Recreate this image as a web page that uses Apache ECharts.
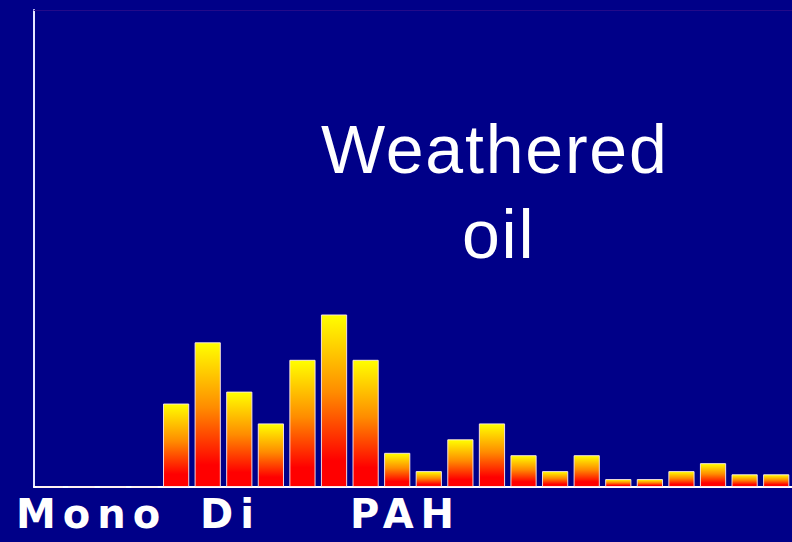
<!DOCTYPE html>
<html>
<head>
<meta charset="utf-8">
<script src="https://cdn.jsdelivr.net/npm/echarts@6/dist/echarts.min.js"></script>
<style>
html,body{margin:0;padding:0;background:#000088;}
#chart{width:792px;height:542px;}
#chart text[style*="40px"]{letter-spacing:7px;}
#chart text[style*="68px"]{letter-spacing:1.8px;}
</style>
</head>
<body>
<div id="chart"></div>
<script>
var categories = ['1','2','3','4','5','6','7','8','9','10','11','12','13','14','15','16','17','18','19','20','21','22','23','24'];
var values = [0,0,0,0,10.5,18.2,12,8,16,21.7,16,4.3,2,6,8,4,2,4,1,1,2,3,1.6,1.6];
var groupLabels = ['Mono','Di','PAH'];
var titleLines = ['Weathered','oil'];

var chart = echarts.init(document.getElementById('chart'), null, {renderer:'svg', width:792, height:542});
var font = '"Liberation Sans", Arial, sans-serif';
var boldFont = '"DejaVu Sans", Verdana, sans-serif';
var option = {
  backgroundColor: '#000088',
  animation: false,
  grid: {left:34, right:-5, top:10, bottom:55},
  xAxis: [{
    type:'category', data:categories,
    axisLine:{show:true, lineStyle:{color:'#ffffff', width:2}},
    axisTick:{show:false}, axisLabel:{show:false}, splitLine:{show:false}
  },{
    type:'category', data:categories, position:'top',
    axisLine:{show:true, lineStyle:{color:'#230a8a', width:1}},
    axisTick:{show:false}, axisLabel:{show:false}, splitLine:{show:false}
  }],
  yAxis: {
    type:'value', min:0, max:60,
    axisLine:{show:true, lineStyle:{color:'#e6e6ff', width:2}},
    axisTick:{show:false}, axisLabel:{show:false}, splitLine:{show:false}
  },
  series: [{
    type:'bar', data:values, barCategoryGap:'17%', xAxisIndex:0,
    itemStyle:{
      color:{type:'linear', x:0, y:0, x2:0, y2:1, colorStops:[
        {offset:0, color:'#ffff00'},
        {offset:0.45, color:'#ff8c00'},
        {offset:0.85, color:'#ff0000'},
        {offset:1, color:'#ff0000'}
      ]},
      borderColor:'rgba(255,235,235,0.9)', borderWidth:1
    }
  }],
  graphic: [
    {type:'text', left:321, top:115, style:{text:titleLines[0], fill:'#ffffff', font:'68px ' + font}},
    {type:'text', left:462, top:200, style:{text:titleLines[1], fill:'#ffffff', font:'68px ' + font}},
    {type:'text', left:16, top:494, style:{text:groupLabels[0], fill:'#ffffff', font:'bold 40px ' + boldFont}},
    {type:'text', left:200, top:494, style:{text:groupLabels[1], fill:'#ffffff', font:'bold 40px ' + boldFont}},
    {type:'text', left:350, top:494, style:{text:groupLabels[2], fill:'#ffffff', font:'bold 40px ' + boldFont}}
  ]
};
chart.setOption(option);
</script>
</body>
</html>
